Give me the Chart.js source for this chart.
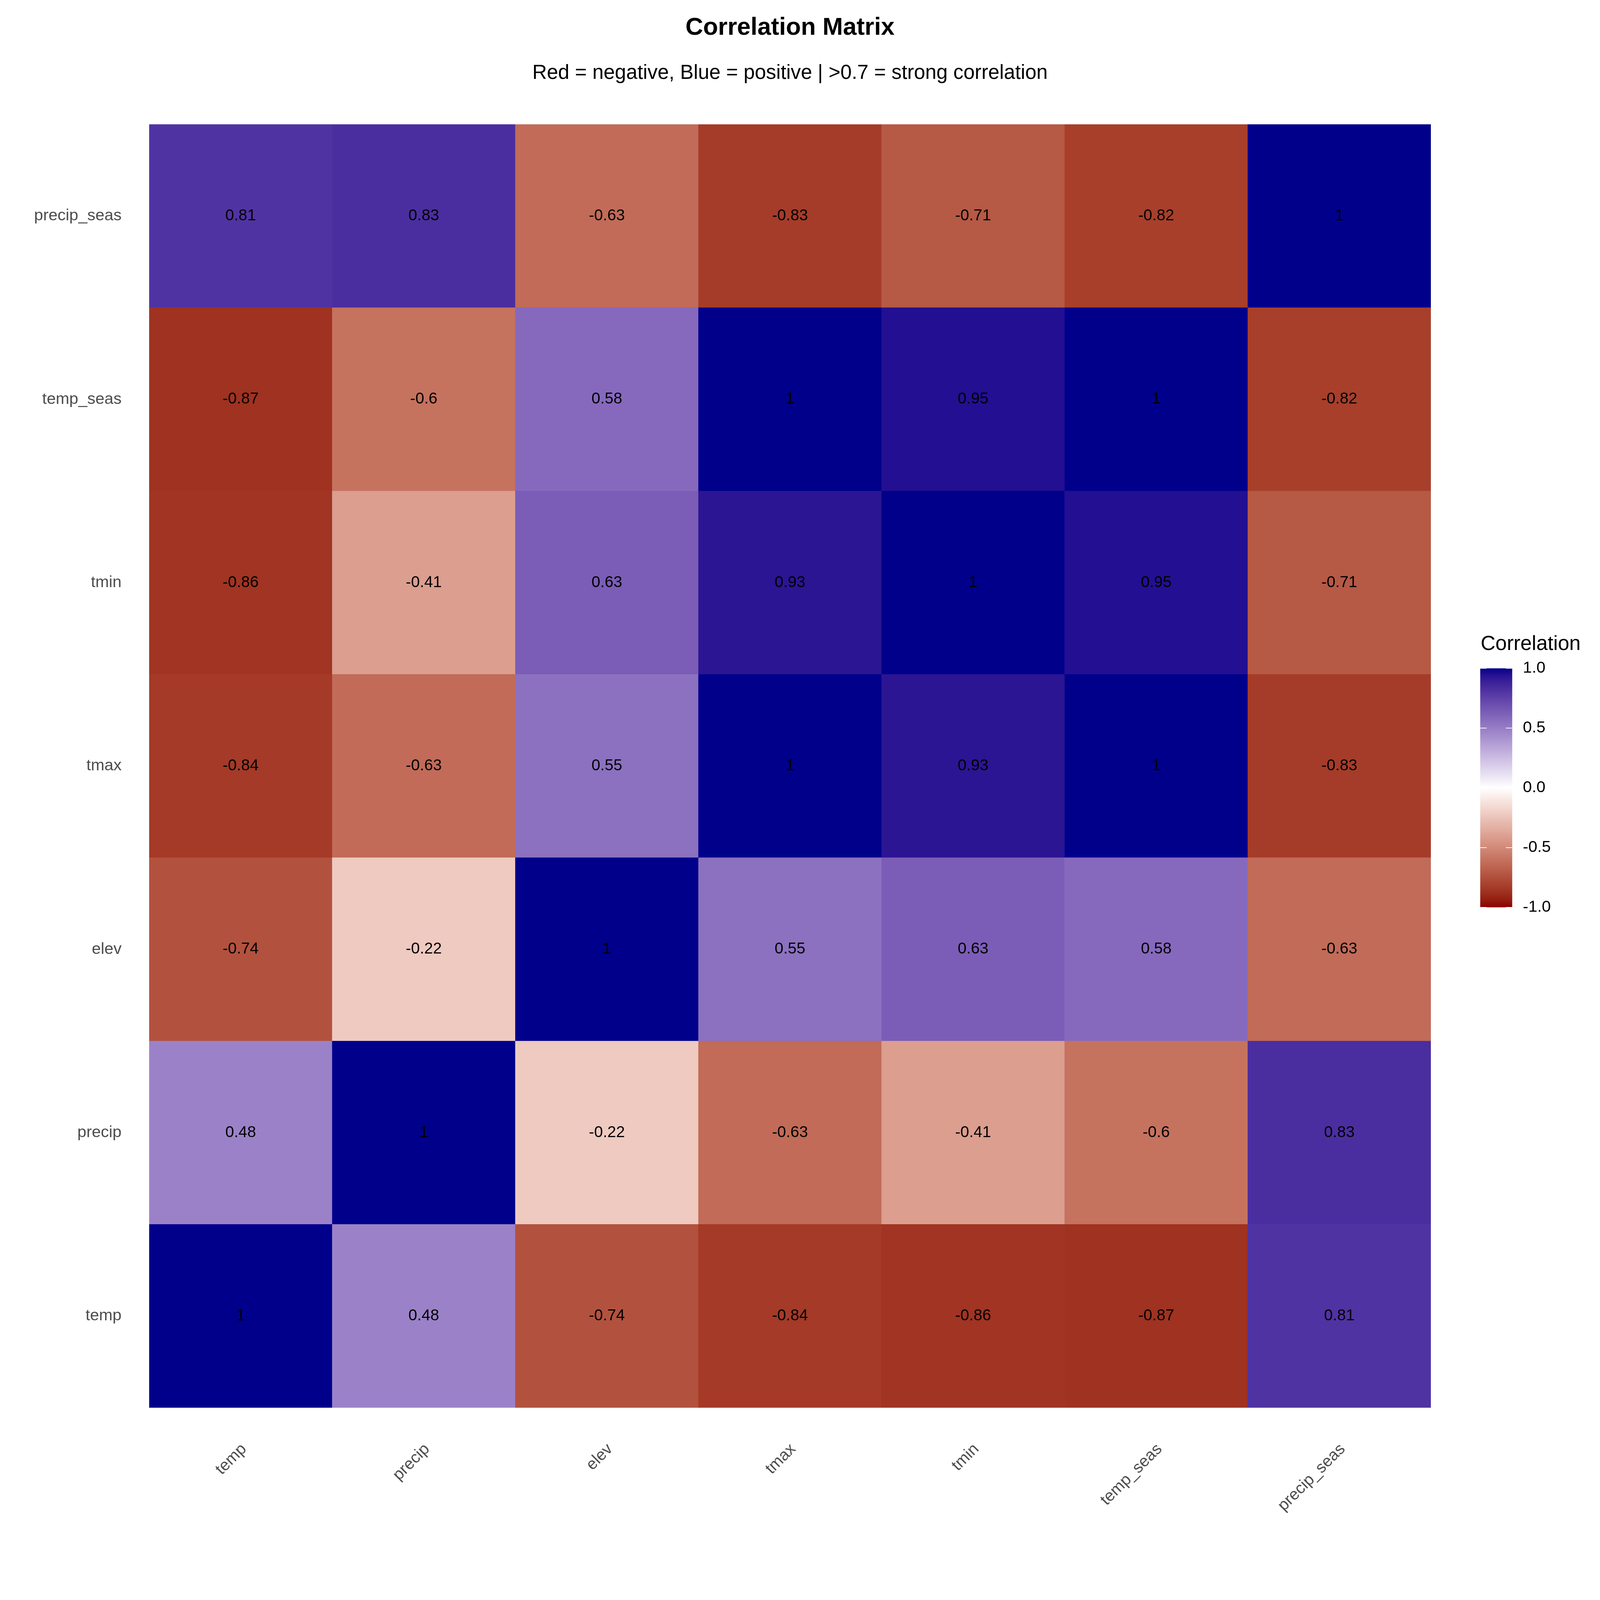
<!DOCTYPE html>
<html>
<head>
<meta charset="utf-8">
<title>Correlation Matrix</title>
<script src="https://cdn.jsdelivr.net/npm/chart.js@4.4.1/dist/chart.umd.min.js"></script>
<style>
  html, body { margin: 0; padding: 0; background: #ffffff; overflow: hidden; }
  canvas { display: block; }
</style>
</head>
<body>
<canvas id="chartCorr"></canvas>
<script>
// variables, used for both axes (bottom to top on y)
const variables = ['temp', 'precip', 'elev', 'tmax', 'tmin', 'temp_seas', 'precip_seas'];

// one row per y variable, columns in the order of `variables`
const corrTemp       = [1, 0.48, -0.74, -0.84, -0.86, -0.87, 0.81];
const corrPrecip     = [0.48, 1, -0.22, -0.63, -0.41, -0.6, 0.83];
const corrElev       = [-0.74, -0.22, 1, 0.55, 0.63, 0.58, -0.63];
const corrTmax       = [-0.84, -0.63, 0.55, 1, 0.93, 1, -0.83];
const corrTmin       = [-0.86, -0.41, 0.63, 0.93, 1, 0.95, -0.71];
const corrTempSeas   = [-0.87, -0.6, 0.58, 1, 0.95, 1, -0.82];
const corrPrecipSeas = [0.81, 0.83, -0.63, -0.83, -0.71, -0.82, 1];
const corrRows = [corrTemp, corrPrecip, corrElev, corrTmax, corrTmin, corrTempSeas, corrPrecipSeas];

// colour bar ticks
const legendTicks = [1.0, 0.5, 0.0, -0.5, -1.0];
const legendTickLabels = ['1.0', '0.5', '0.0', '-0.5', '-1.0'];

const FONT = '"Liberation Sans", Arial, sans-serif';
const AXIS_GREY = '#4D4D4D';

// layout is designed for 7200x4800 and scaled to the real window
const W = window.innerWidth || 7200;
const H = window.innerHeight || 4800;
const kx = W / 7200;
const ky = H / 4800;
const kf = Math.min(kx, ky);
const sx = n => n * kx;
const sy = n => n * ky;
const fs = n => n * kf;

const TITLE_SIZE = 110;
const SUBTITLE_SIZE = 91;
const TICK_SIZE = 73;

// diverging scale darkred - white - darkblue, interpolated in CIELAB
const WHITE_REF = [0.95047, 1.0, 1.08883];

function hexToRgb(hex) {
  const n = parseInt(hex.replace('#', ''), 16);
  return [(n >> 16) & 255, (n >> 8) & 255, n & 255];
}

function toLinear(c) {
  c = c / 255;
  return c <= 0.04045 ? c / 12.92 : Math.pow((c + 0.055) / 1.055, 2.4);
}

function fromLinear(c) {
  const v = c <= 0.0031308 ? 12.92 * c : 1.055 * Math.pow(c, 1 / 2.4) - 0.055;
  return Math.round(Math.min(1, Math.max(0, v)) * 255);
}

function rgbToLab(rgb) {
  const r = toLinear(rgb[0]), g = toLinear(rgb[1]), b = toLinear(rgb[2]);
  const x = (r * 0.4124564 + g * 0.3575761 + b * 0.1804375) / WHITE_REF[0];
  const y = (r * 0.2126729 + g * 0.7151522 + b * 0.0721750) / WHITE_REF[1];
  const z = (r * 0.0193339 + g * 0.1191920 + b * 0.9503041) / WHITE_REF[2];
  const f = t => t > 216 / 24389 ? Math.cbrt(t) : (24389 / 27 * t + 16) / 116;
  const fx = f(x), fy = f(y), fz = f(z);
  return [116 * fy - 16, 500 * (fx - fy), 200 * (fy - fz)];
}

function labToRgb(lab) {
  const fy = (lab[0] + 16) / 116;
  const fx = fy + lab[1] / 500;
  const fz = fy - lab[2] / 200;
  const inv = t => (t * t * t > 216 / 24389) ? t * t * t : (116 * t - 16) / (24389 / 27);
  const x = inv(fx) * WHITE_REF[0];
  const y = inv(fy) * WHITE_REF[1];
  const z = inv(fz) * WHITE_REF[2];
  const r = 3.2404542 * x - 1.5371385 * y - 0.4985314 * z;
  const g = -0.9692660 * x + 1.8760108 * y + 0.0415560 * z;
  const b = 0.0556434 * x - 0.2040259 * y + 1.0572252 * z;
  return [fromLinear(r), fromLinear(g), fromLinear(b)];
}

const labLow = rgbToLab(hexToRgb('#8B0000'));
const labMid = rgbToLab(hexToRgb('#FFFFFF'));
const labHigh = rgbToLab(hexToRgb('#00008B'));

function colorFor(v) {
  const t = Math.max(-1, Math.min(1, v));
  const end = t < 0 ? labLow : labHigh;
  const s = Math.abs(t);
  const lab = [0, 1, 2].map(k => labMid[k] + s * (end[k] - labMid[k]));
  const rgb = labToRgb(lab);
  return 'rgb(' + rgb.join(',') + ')';
}

// numbers in each tile
const cellLabelPlugin = {
  id: 'cellLabels',
  afterDatasetsDraw(chart) {
    const ctx = chart.ctx;
    ctx.save();
    ctx.font = fs(71) + 'px ' + FONT;
    ctx.fillStyle = '#000000';
    ctx.textAlign = 'center';
    ctx.textBaseline = 'middle';
    chart.data.datasets.forEach((ds, i) => {
      chart.getDatasetMeta(i).data.forEach((bar, j) => {
        const cy = (bar.y + bar.base) / 2;
        ctx.fillText(String(ds.corr[j]), bar.x, cy);
      });
    });
    ctx.restore();
  }
};

// colour bar legend on the right
const colorbarPlugin = {
  id: 'colorbar',
  afterDraw(chart) {
    const ctx = chart.ctx;
    const barLeft = chart.chartArea.right + sx(222);
    const barWidth = sx(144);
    const barTop = sy(2005);
    const barHeight = sy(717);
    ctx.save();

    ctx.fillStyle = '#000000';
    ctx.font = fs(92) + 'px ' + FONT;
    ctx.textAlign = 'left';
    ctx.textBaseline = 'alphabetic';
    ctx.fillText('Correlation', barLeft + sx(2), sy(1950));

    const grad = ctx.createLinearGradient(0, barTop, 0, barTop + barHeight);
    for (let k = 0; k <= 40; k++) {
      grad.addColorStop(k / 40, colorFor(1 - k / 20));
    }
    ctx.fillStyle = grad;
    ctx.fillRect(barLeft, barTop, barWidth, barHeight);

    const tickLen = barWidth / 5;
    ctx.strokeStyle = '#ffffff';
    ctx.lineWidth = Math.max(1, fs(3));
    ctx.font = fs(TICK_SIZE) + 'px ' + FONT;
    ctx.textBaseline = 'middle';
    legendTicks.forEach((v, k) => {
      const y = barTop + (1 - v) / 2 * barHeight;
      ctx.beginPath();
      ctx.moveTo(barLeft, y);
      ctx.lineTo(barLeft + tickLen, y);
      ctx.moveTo(barLeft + barWidth - tickLen, y);
      ctx.lineTo(barLeft + barWidth, y);
      ctx.stroke();
      ctx.fillStyle = '#000000';
      ctx.fillText(legendTickLabels[k], barLeft + barWidth + sx(48), y);
    });
    ctx.restore();
  }
};

function initChart() {
  const datasets = corrRows.map((row, r) => ({
    label: variables[r],
    data: row.map(() => [r, r + 1]),
    corr: row,
    backgroundColor: row.map(colorFor),
    borderWidth: 0,
    grouped: false,
    barPercentage: 1,
    categoryPercentage: 1
  }));

  const canvas = document.getElementById('chartCorr');
  canvas.style.width = W + 'px';
  canvas.style.height = H + 'px';
  canvas.width = W;
  canvas.height = H;

  // title / subtitle centre lines and the top of the tiles
  const titleHalf = 0.6 * fs(TITLE_SIZE);
  const subHalf = 0.6 * fs(SUBTITLE_SIZE);
  const titleMid = sy(84);
  const subMid = sy(220);
  const tilesTop = sy(373);
  const labelMidBelow = sy(117);

  const setup = {
    type: 'bar',
    data: {
      labels: variables,
      datasets: datasets
    },
    options: {
      responsive: false,
      animation: false,
      layout: {
        padding: { top: 0, right: sx(761), bottom: 0, left: 0 }
      },
      plugins: {
        legend: { display: false },
        tooltip: { enabled: false },
        title: {
          display: true,
          fullSize: false,
          text: 'Correlation Matrix',
          color: '#000000',
          font: { family: FONT, size: fs(TITLE_SIZE), weight: 'bold' },
          padding: { top: titleMid - titleHalf, bottom: 0 }
        },
        subtitle: {
          display: true,
          fullSize: false,
          text: 'Red = negative, Blue = positive | >0.7 = strong correlation',
          color: '#000000',
          font: { family: FONT, size: fs(SUBTITLE_SIZE) },
          padding: {
            top: subMid - subHalf - (titleMid + titleHalf),
            bottom: tilesTop - subMid - subHalf
          }
        }
      },
      scales: {
        x: {
          type: 'category',
          offset: true,
          grid: { display: false, drawTicks: false },
          border: { display: false },
          ticks: {
            color: AXIS_GREY,
            font: { family: FONT, size: fs(TICK_SIZE) },
            minRotation: 45,
            maxRotation: 45,
            autoSkip: false,
            padding: labelMidBelow - 0.354 * 1.2 * fs(TICK_SIZE),
            labelOffset: sx(15)
          },
          afterFit: function(scale) {
            scale.height = sy(577);
          }
        },
        y: {
          type: 'linear',
          min: 0,
          max: variables.length,
          grid: { display: false, drawTicks: false },
          border: { display: false },
          afterBuildTicks: function(scale) {
            scale.ticks = variables.map((v, i) => ({ value: i + 0.5 }));
          },
          ticks: {
            color: AXIS_GREY,
            font: { family: FONT, size: fs(TICK_SIZE) },
            padding: sx(124),
            callback: function(value) {
              return variables[Math.floor(value)];
            }
          },
          afterFit: function(scale) {
            scale.width = sx(671);
          }
        }
      }
    },
    plugins: [cellLabelPlugin, colorbarPlugin]
  };
  const chart = new Chart(canvas, setup);
}

initChart();
</script>
</body>
</html>
